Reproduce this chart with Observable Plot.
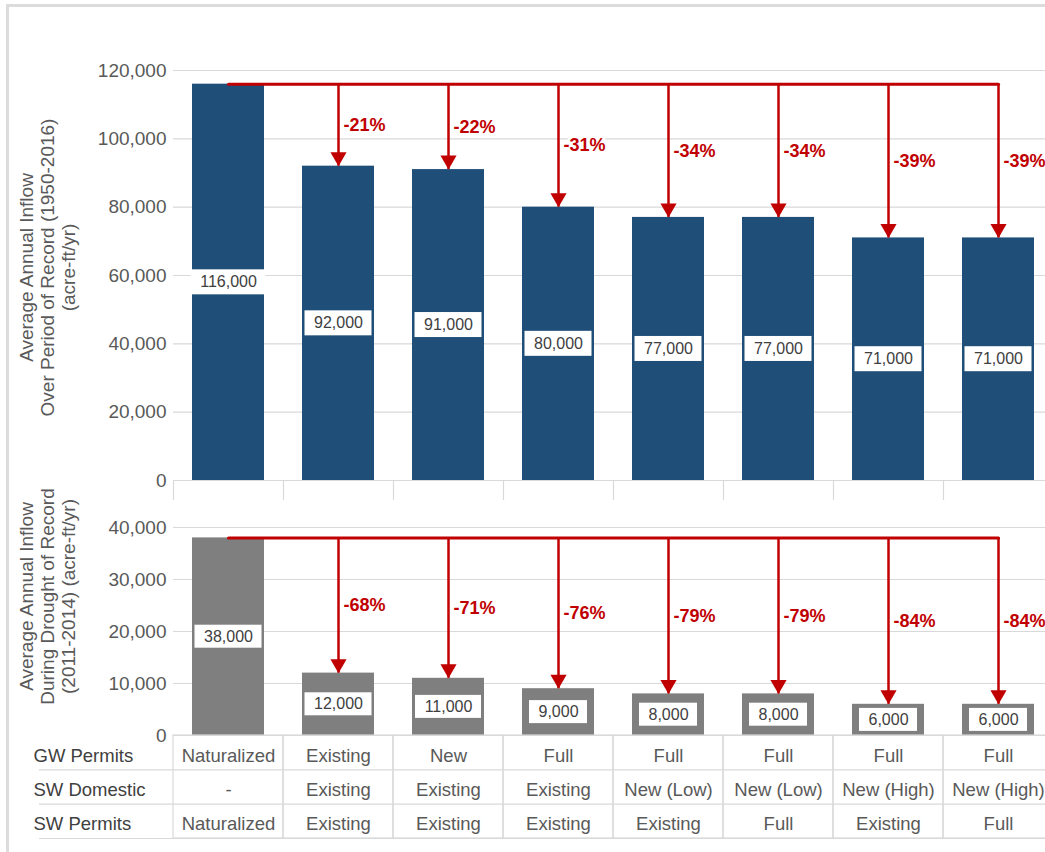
<!DOCTYPE html>
<html>
<head>
<meta charset="utf-8">
<script src="https://cdn.jsdelivr.net/npm/d3@7"></script>
<script src="https://cdn.jsdelivr.net/npm/@observablehq/plot@0.6"></script>
<style>
  html, body { margin: 0; padding: 0; background: #fff; overflow: hidden; }
  #frame { position: absolute; left: 6px; top: 4px; width: 1100px; height: 900px;
           border-left: 3px solid #dcdcdc; border-top: 3px solid #dcdcdc; }
  .panel { position: absolute; left: 0; }
  .panel svg { display: block; overflow: visible; }
</style>
</head>
<body>
<div id="frame"></div>
<div id="top" class="panel" style="top:0px"></div>
<div id="bottom" class="panel" style="top:500px"></div>
<div id="table" class="panel" style="top:735px"></div>
<script>
// ---------- data ----------
const gwPermits  = ["Naturalized", "Existing", "New", "Full", "Full", "Full", "Full", "Full"];
const swDomestic = ["-", "Existing", "Existing", "Existing", "New (Low)", "New (Low)", "New (High)", "New (High)"];
const swPermits  = ["Naturalized", "Existing", "Existing", "Existing", "Existing", "Full", "Existing", "Full"];
const rowNames   = ["GW Permits", "SW Domestic", "SW Permits"];

const periodInflow  = [116000, 92000, 91000, 80000, 77000, 77000, 71000, 71000];
const periodChange  = [null, "-21%", "-22%", "-31%", "-34%", "-34%", "-39%", "-39%"];
const droughtInflow = [38000, 12000, 11000, 9000, 8000, 8000, 6000, 6000];
const droughtChange = [null, "-68%", "-71%", "-76%", "-79%", "-79%", "-84%", "-84%"];

const periodTicks  = [0, 20000, 40000, 60000, 80000, 100000, 120000];
const droughtTicks = [0, 10000, 20000, 30000, 40000];

const periodTitle  = ["Average Annual Inflow", "Over Period of Record (1950-2016)", "(acre-ft/yr)"];
const droughtTitle = ["Average Annual Inflow", "During Drought of Record", "(2011-2014) (acre-ft/yr)"];

// ---------- styling ----------
const FONT = '"Liberation Sans", Arial, sans-serif';
const RED = "#C00000";
const GRID = "#d9d9d9";
const W = 1045;
const X0 = 173, BAND = 110;
const ids = gwPermits.map((g, i) => `${g} | ${swDomestic[i]} | ${swPermits[i]}`);
const fmt = d3.format(",");
const xScale = {type: "band", domain: ids, range: [X0, X0 + BAND * ids.length], padding: 0, axis: null};

const ctx = document.createElement("canvas").getContext("2d");
ctx.font = `16px ${FONT}`;
const boxW = s => Math.round(ctx.measureText(s).width) + 18;

function panel({values, changes, ticks, yMax, color, plotTop, plotBottom, height, title, titleDy, boxH, sepPx}) {
  const data = ids.map((id, i) => ({id, value: values[i], change: changes[i], label: fmt(values[i])}));
  const base = values[0];
  const arrows = data.slice(1);
  const plotH = plotBottom - plotTop;
  const perPx = yMax / plotH;
  const half = boxH / 2 * perPx;
  const boxes = Array.from(d3.group(data, d => boxW(d.label)), ([w, rows]) =>
    Plot.barY(rows, {x: "id", y1: d => d.value / 2 - half, y2: d => d.value / 2 + half,
      fill: "white", insetLeft: (BAND - w) / 2, insetRight: (BAND - w) / 2}));
  const marks = [
    Plot.gridY({ticks, stroke: GRID, strokeOpacity: 1, strokeWidth: 1.2}),
    Plot.axisY({ticks, tickSize: 0, tickPadding: 7, tickFormat: fmt, fontSize: 19, color: "#595959", label: null}),
    Plot.barY(data, {x: "id", y: "value", fill: color, insetLeft: 19, insetRight: 19}),
    ...boxes,
    Plot.text(data, {x: "id", y: d => d.value / 2, text: "label", fontSize: 16, fill: "#404040"}),
    Plot.line(data, {x: "id", y: () => base, stroke: RED, strokeWidth: 3}),
    Plot.ruleX(arrows, {x: "id", y1: base, y2: "value", stroke: RED, strokeWidth: 2.5}),
    Plot.dot(arrows, {x: "id", y: "value", symbol: "triangle", rotate: 180, r: 6, fill: RED, stroke: null, dy: -9.3}),
    Plot.text(arrows, {x: "id", y: d => (base + d.value) / 2, text: "change", textAnchor: "start", dx: 5,
      fontWeight: "bold", fontSize: 18, fill: RED, stroke: "white", strokeWidth: 6, paintOrder: "stroke"}),
    Plot.text([title.join("\n")], {frameAnchor: "left", text: d => d, rotate: -90, textAnchor: "middle",
      dx: -126, dy: titleDy, fontSize: 19, lineHeight: 1.1, fill: "#595959"})
  ];
  if (sepPx) {
    marks.push(Plot.ruleX(ids, {x: d => d, y1: 0, y2: -sepPx * perPx, dx: -BAND / 2, stroke: GRID, strokeWidth: 1.2}));
  }
  return Plot.plot({
    width: W, height,
    marginLeft: X0, marginRight: 0, marginTop: plotTop, marginBottom: height - plotBottom,
    style: {fontFamily: FONT, background: "transparent", overflow: "visible"},
    x: xScale,
    y: {domain: [0, yMax], axis: null},
    marks
  });
}

document.getElementById("top").append(panel({
  values: periodInflow, changes: periodChange, ticks: periodTicks, yMax: 120000, color: "#1F4E79",
  plotTop: 70, plotBottom: 480, height: 500, title: periodTitle, titleDy: -8, boxH: 25, sepPx: 20
}));

document.getElementById("bottom").append(panel({
  values: droughtInflow, changes: droughtChange, ticks: droughtTicks, yMax: 40000, color: "#7F7F7F",
  plotTop: 27, plotBottom: 235, height: 240, title: droughtTitle, titleDy: -35, boxH: 23, sepPx: 0
}));

const tableRows = [gwPermits, swDomestic, swPermits];
const cells = ids.flatMap((id, i) => tableRows.map((r, j) => ({id, row: j, text: r[i]})));
document.getElementById("table").append(Plot.plot({
  width: W, height: 117,
  marginLeft: 39, marginRight: 0, marginTop: 0, marginBottom: 14,
  style: {fontFamily: FONT, background: "transparent", overflow: "visible"},
  x: xScale,
  y: {domain: [0, rowNames.length], reverse: true, axis: null},
  marks: [
    Plot.ruleY([1, 2, 3], {stroke: GRID, strokeWidth: 1.2}),
    Plot.barY(ids, {x: d => d, y1: 0, y2: rowNames.length, fill: "none", stroke: GRID, strokeWidth: 1.2}),
    Plot.text(cells, {x: "id", y: d => d.row + 0.5, text: "text", fontSize: 18.5, fill: "#595959", dy: 3}),
    Plot.text(rowNames, {frameAnchor: "left", y: (d, i) => i + 0.5, text: d => d, textAnchor: "start",
      dx: -6, dy: 3, fontSize: 18.5, fill: "#404040"})
  ]
}));
</script>
</body>
</html>
